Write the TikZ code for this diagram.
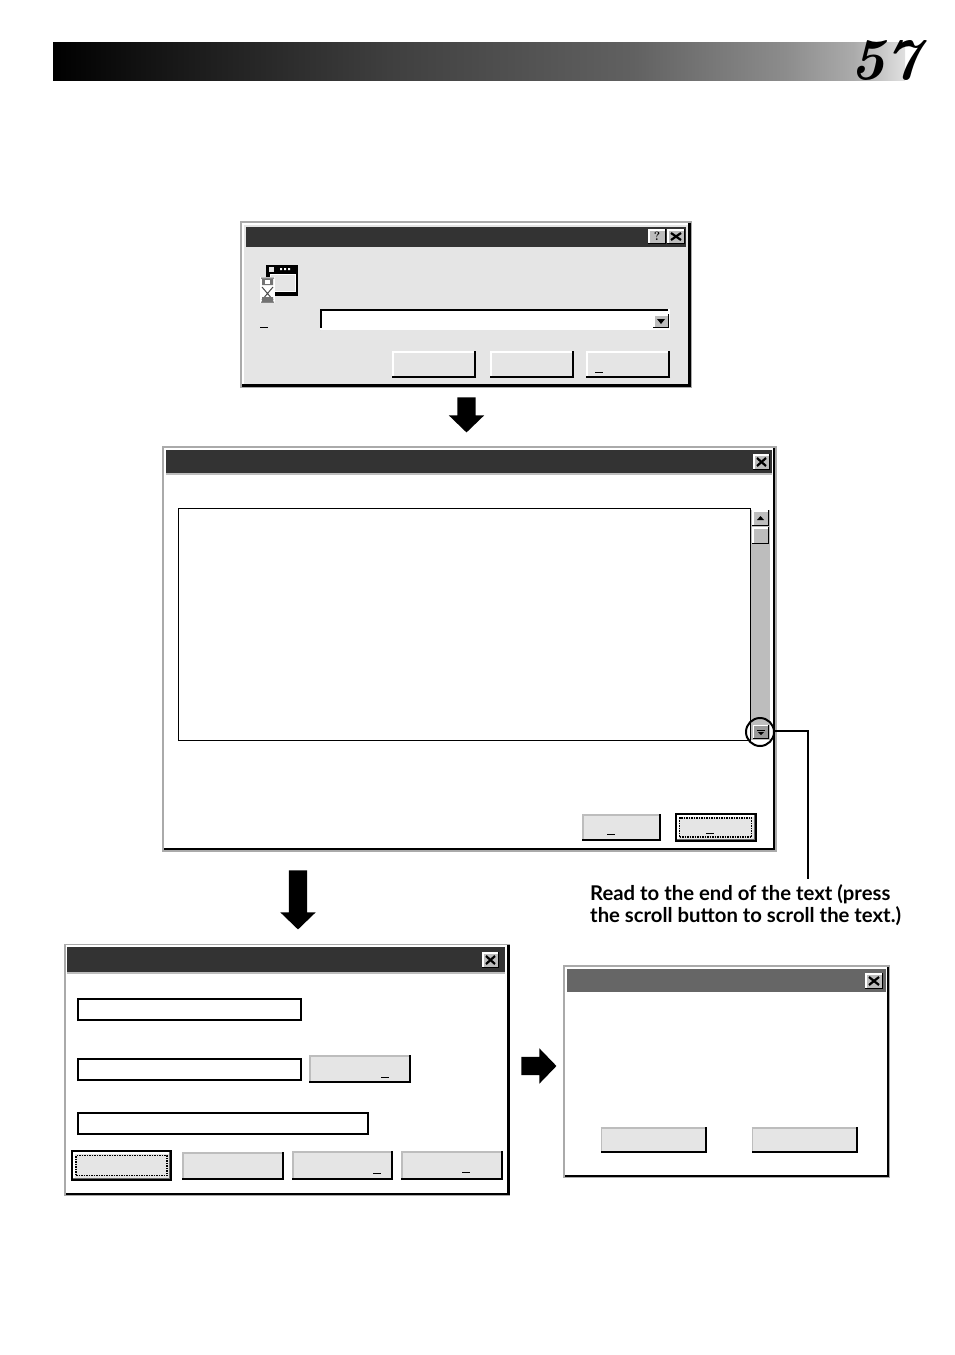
\documentclass[tikz,border=0pt]{standalone}
\usepackage{fontspec}
\newfontfamily\capfont{Lato}
\usetikzlibrary{shapes.arrows}
\definecolor{face_gray}{RGB}{229,229,229}
\definecolor{frame_gray}{RGB}{170,170,170}
\definecolor{track_gray}{RGB}{189,189,189}
\definecolor{title_dark}{RGB}{51,51,51}
\definecolor{title_mid}{RGB}{102,102,102}
\pgfdeclarehorizontalshading{header_fade}{100bp}{color(0bp)=(black); color(25bp)=(black); color(31bp)=(black!92); color(45bp)=(black!75); color(59bp)=(black!62); color(68bp)=(black!45); color(72bp)=(black!33); color(75bp)=(black!12); color(100bp)=(black!12)}
\tikzset{
  raised/.style n args={3}{append after command={
    ([xshift=.5*#3,yshift=0pt]\tikzlastnode.south west) edge[draw=#1,line width=#3] ([xshift=.5*#3,yshift=0pt]\tikzlastnode.north west)
    ([xshift=0pt,yshift=-.5*#3]\tikzlastnode.north west) edge[draw=#1,line width=#3] ([xshift=0pt,yshift=-.5*#3]\tikzlastnode.north east)
    ([xshift=-.5*#3,yshift=0pt]\tikzlastnode.north east) edge[draw=#2,line width=#3] ([xshift=-.5*#3,yshift=0pt]\tikzlastnode.south east)
    ([xshift=0pt,yshift=.5*#3]\tikzlastnode.south east) edge[draw=#2,line width=#3] ([xshift=0pt,yshift=.5*#3]\tikzlastnode.south west)
  }}
}
\begin{document}
\begin{tikzpicture}[x=1pt,y=-1pt]
    \tikzstyle{box}=[rectangle, inner sep=0pt, outer sep=0pt, draw=none]
    \tikzstyle{outer}=[box, fill=frame_gray]
    \tikzstyle{bodyA}=[box, fill=face_gray, raised={white}{black}{2.5pt}]
    \tikzstyle{bodyB}=[box, fill=white, raised={white}{black}{2.5pt}]
    \tikzstyle{btn}=[box, fill=face_gray, raised={white}{black}{2pt}]
    \tikzstyle{btngray}=[box, fill=face_gray, raised={track_gray}{black}{2pt}]
    \tikzstyle{btnthin}=[box, fill=face_gray, raised={track_gray}{black}{1.7pt}]
    \tikzstyle{focus}=[box, draw=black, line width=1.5pt, densely dotted]
    \tikzstyle{field}=[box, fill=white, raised={black}{black}{2pt}]
    \tikzstyle{capbtn}=[box, fill=track_gray, raised={white}{black}{1.5pt}]
    \tikzstyle{closebtn}=[capbtn, path picture={
      \draw[line width=2.2pt] ([xshift=4pt,yshift=-4pt]path picture bounding box.north west) -- ([xshift=-4pt,yshift=4pt]path picture bounding box.south east);
      \draw[line width=2.2pt] ([xshift=-4pt,yshift=-4pt]path picture bounding box.north east) -- ([xshift=4pt,yshift=4pt]path picture bounding box.south west);}]
    \tikzstyle{blockarrow}=[single arrow, fill=black, inner sep=9pt, outer sep=0pt, single arrow head extend=8.5pt, single arrow head indent=0pt, single arrow tip angle=92]
    \tikzstyle{stub}=[line width=1pt]
    \useasboundingbox (0,0) rectangle (954,1355);

    % page header
    \node[box, shade, shading=header_fade, minimum width=852pt, minimum height=38pt] (bar) at (479,61) {};
    \node[inner sep=0pt] (page) at (885,60.5) {\fontsize{59}{59}\selectfont\bfseries\itshape 57};

    % first dialog
    \node[outer, minimum width=452pt, minimum height=167pt] (dlgA) at (466,304.5) {};
    \node[bodyA, minimum width=449pt, minimum height=164pt] (dlgAin) at (466,304.5) {};
    \node[box, fill=title_dark, minimum width=440pt, minimum height=20pt] (titleA) at (466,237) {};
    \node[capbtn, minimum width=18pt, minimum height=15pt, font=\bfseries\large] (help) at (657,236.5) {?};
    \node[closebtn, minimum width=18pt, minimum height=15pt] (closeA) at (676,236.5) {};
    \node[box, fill=black, minimum width=32pt, minimum height=31pt] (icon) at (282,280.5) {};
    \node[box, fill=face_gray, minimum width=26pt, minimum height=18pt, raised={white}{white}{1pt}] (iconpane) at (283,283) {};
    \node[box, fill=black, minimum width=20pt, minimum height=5pt] (icontitle) at (287,269.5) {};
    \fill[white] (280,268) rectangle +(2,2) (284,268) rectangle +(2,2) (288,268) rectangle +(2,2);
    \fill[face_gray] (269,267) rectangle (274,272);
    \fill[white] (260,277) rectangle (275,303);
    \draw[line width=1pt, black!70] (261,278) -- (274,278) (262,287) -- (273,300) (273,287) -- (262,300) (261,302) -- (274,302);
    \fill[black!55] (262,279) rectangle (273,285) (262,297) rectangle (273,302);
    \fill[white] (265,280) rectangle (270,284);
    \draw[stub] (260,327) -- (268,327);
    \node[box, fill=white, raised={black}{white}{2pt}, minimum width=350pt, minimum height=21pt] (combo) at (495,319.5) {};
    \node[capbtn, minimum width=16pt, minimum height=14pt] (comboarrow) at (661,321) {};
    \fill ([xshift=-4pt,yshift=2pt]comboarrow.center) -- ([xshift=4pt,yshift=2pt]comboarrow.center) -- ([yshift=-3pt]comboarrow.center) -- cycle;
    \node[btn, minimum width=84pt, minimum height=27pt] (okA) at (434,364.5) {};
    \node[btn, minimum width=84pt, minimum height=27pt] (cancelA) at (532,364.5) {};
    \node[btn, minimum width=84pt, minimum height=27pt] (browseA) at (628,364.5) {};
    \draw[stub] (595,372) -- (603,372);

    \node[blockarrow, shape border rotate=270, minimum height=35pt] (stepA) at (466.5,410.5) {};

    % second dialog
    \node[outer, minimum width=615pt, minimum height=406pt] (dlgB) at (469.5,649) {};
    \node[bodyB, minimum width=611pt, minimum height=402pt] (dlgBin) at (469.5,649) {};
    \node[box, fill=track_gray, minimum width=606pt, minimum height=25pt] (rimB) at (469,462.5) {};
    \node[box, fill=title_dark, minimum width=606pt, minimum height=23pt] (titleB) at (469,461.5) {};
    \node[closebtn, minimum width=17pt, minimum height=16pt] (closeB) at (761.5,462) {};
    \node[box, fill=white, raised={black}{black}{1pt}, minimum width=573pt, minimum height=233pt] (textarea) at (464.5,624.5) {};
    \node[box, fill=track_gray, minimum width=19pt, minimum height=230pt] (track) at (760.5,625) {};
    \node[capbtn, minimum width=17pt, minimum height=16pt] (scrollup) at (760.5,518) {};
    \fill ([xshift=-3.5pt,yshift=-2pt]scrollup.center) -- ([xshift=3.5pt,yshift=-2pt]scrollup.center) -- ([yshift=2pt]scrollup.center) -- cycle;
    \node[capbtn, minimum width=17pt, minimum height=17pt] (thumb) at (760.5,535.5) {};
    \node[box, fill=black!40, raised={white}{black}{1pt}, minimum width=16pt, minimum height=14pt] (scrolldown) at (761,732) {};
    \fill ([xshift=-3pt,yshift=0pt]scrolldown.center) -- ([xshift=3pt,yshift=0pt]scrolldown.center) -- ([yshift=-3pt]scrolldown.center) -- cycle;
    \draw[line width=1pt] ([xshift=-4pt,yshift=1.5pt]scrolldown.center) -- ([xshift=4pt,yshift=1.5pt]scrolldown.center);
    \node[circle, draw=black, line width=2pt, inner sep=0pt, minimum size=28pt] (ring) at (760,732) {};
    \node[btnthin, minimum width=79pt, minimum height=27pt] (noB) at (621.5,827.5) {};
    \draw[stub] (607,834) -- (615,834);
    \node[box, fill=black, minimum width=82pt, minimum height=29pt] (yesframe) at (716,827.5) {};
    \node[box, fill=face_gray, raised={white}{black!60}{1.5pt}, minimum width=78pt, minimum height=25pt] (yesB) at (716,827.5) {};
    \node[focus, minimum width=72pt, minimum height=19pt] (yesfocus) at (715.5,827.5) {};
    \draw[stub] (706,833) -- (714,833);

    % callout
    \node[anchor=north west, inner sep=0pt, align=left, font=\capfont\bfseries\fontsize{20.3}{22}\selectfont] (note) at (590,884.5) {Read to the end of the text (press\\the scroll button to scroll the text.)};
    \coordinate (elbow) at (807.5,731);
    \coordinate (noteend) at (807.5,879);
    \draw[line width=2pt] (ring.east |- elbow) -- (elbow) -- (noteend);

    \node[blockarrow, shape border rotate=270, minimum height=59pt] (stepB) at (298,895.5) {};

    % third dialog
    \node[outer, minimum width=446pt, minimum height=252pt] (dlgC) at (287,1070) {};
    \node[bodyB, minimum width=444pt, minimum height=250pt] (dlgCin) at (287.5,1070) {};
    \node[box, fill=track_gray, minimum width=438pt, minimum height=27pt] (rimC) at (286,960.5) {};
    \node[box, fill=title_dark, minimum width=438pt, minimum height=25pt] (titleC) at (286,959.5) {};
    \node[closebtn, minimum width=17pt, minimum height=16pt] (closeC) at (490.5,960) {};
    \node[field, minimum width=225pt, minimum height=23pt] (fieldA) at (189.5,1009.5) {};
    \node[field, minimum width=225pt, minimum height=23pt] (fieldB) at (189.5,1069.5) {};
    \node[btngray, minimum width=102pt, minimum height=28pt] (browseC) at (360,1069) {};
    \draw[stub] (381,1077) -- (389,1077);
    \node[field, minimum width=292pt, minimum height=23pt] (fieldC) at (223,1123.5) {};
    \node[box, fill=black, minimum width=101pt, minimum height=31pt] (okframe) at (121.5,1165.5) {};
    \node[box, fill=face_gray, raised={white}{black!60}{1.5pt}, minimum width=97pt, minimum height=27pt] (okC) at (121.5,1165.5) {};
    \node[focus, minimum width=91pt, minimum height=20pt] (okfocus) at (121.5,1165.5) {};
    \node[btngray, minimum width=102pt, minimum height=28pt] (cancelC) at (233,1166) {};
    \node[btngray, minimum width=101pt, minimum height=29pt] (backC) at (342.5,1165.5) {};
    \draw[stub] (373,1173) -- (381,1173);
    \node[btngray, minimum width=102pt, minimum height=29pt] (nextC) at (452,1165.5) {};
    \draw[stub] (462,1172) -- (470,1172);

    \node[blockarrow, minimum height=35pt] (stepC) at (534.5,1066) {};

    % fourth dialog
    \node[outer, minimum width=327pt, minimum height=213pt] (dlgD) at (726.5,1071.5) {};
    \node[bodyB, minimum width=324pt, minimum height=210pt] (dlgDin) at (727,1072) {};
    \node[box, fill=title_mid, minimum width=319pt, minimum height=23pt] (titleD) at (726.5,980.5) {};
    \node[closebtn, minimum width=18pt, minimum height=16pt] (closeD) at (874,981) {};
    \node[btnthin, minimum width=106pt, minimum height=26pt] (leftD) at (653.5,1140) {};
    \node[btnthin, minimum width=106pt, minimum height=26pt] (rightD) at (804.5,1140) {};
\end{tikzpicture}
\end{document}
